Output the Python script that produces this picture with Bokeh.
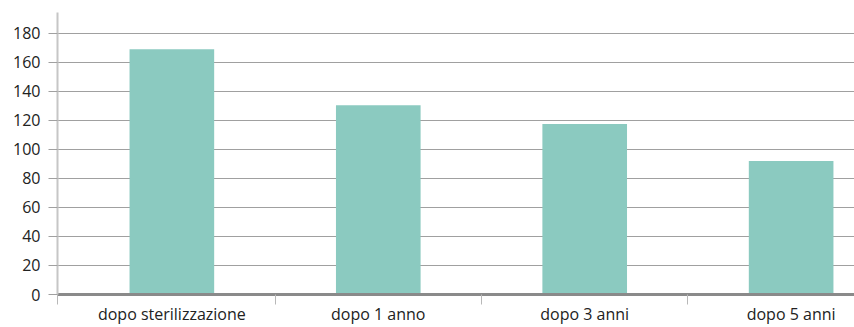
from bokeh.plotting import figure
from bokeh.models import Range1d, FixedTicker, ColumnDataSource
from bokeh.embed import file_html
from bokeh.resources import INLINE

categories = ["dopo sterilizzazione", "dopo 1 anno", "dopo 3 anni", "dopo 5 anni"]
values = [169, 130.5, 117.5, 92]
y_ticks = [0, 20, 40, 60, 80, 100, 120, 140, 160, 180]

xs = list(range(len(categories)))
src = ColumnDataSource(data=dict(x=xs, top=values, cat=categories))

x_start, x_end = -0.554, 3.307
p = figure(width=854, height=327, output_backend="svg", toolbar_location=None,
           x_range=Range1d(x_start, x_end), y_range=Range1d(0, 194.4),
           min_border_left=57, min_border_top=12, min_border_right=0, min_border_bottom=0)
p.outline_line_color = None
p.background_fill_color = "white"
p.border_fill_color = "white"

p.vbar(x="x", top="top", width=0.41, source=src, fill_color="#8bcac0", line_color=None)

FONT = "Open Sans"

# y axis
p.yaxis.ticker = FixedTicker(ticks=y_ticks)
p.yaxis.axis_line_color = "#c6c6c6"
p.yaxis.axis_line_width = 2
p.yaxis.major_tick_out = 9
p.yaxis.major_tick_in = 0
p.yaxis.major_tick_line_color = "#a0a0a0"
p.yaxis.minor_tick_line_color = None
p.yaxis.major_label_standoff = 8
p.yaxis.major_label_text_font = FONT
p.yaxis.major_label_text_font_size = "16px"
p.yaxis.major_label_text_color = "#222222"

p.ygrid.grid_line_color = "#a0a0a0"
p.ygrid.grid_line_width = 1
p.xgrid.grid_line_color = None

# x axis
seps = [x_start] + [i + 0.5 for i in range(len(categories) - 1)]
p.xaxis.ticker = FixedTicker(ticks=xs, minor_ticks=seps)
p.xaxis.major_label_overrides = {i: c for i, c in zip(xs, categories)}
p.xaxis.axis_line_color = "#8a8a8a"
p.xaxis.axis_line_width = 3
p.xaxis.major_tick_out = 0
p.xaxis.major_tick_in = 0
p.xaxis.minor_tick_out = 10
p.xaxis.minor_tick_in = 0
p.xaxis.minor_tick_line_color = "#b8b8b8"
p.xaxis.minor_tick_line_width = 1
p.xaxis.major_label_standoff = -2
p.xaxis.major_label_text_font = FONT
p.xaxis.major_label_text_font_size = "16px"
p.xaxis.major_label_text_color = "#222222"

open("out.html", "w").write(file_html(p, INLINE))
